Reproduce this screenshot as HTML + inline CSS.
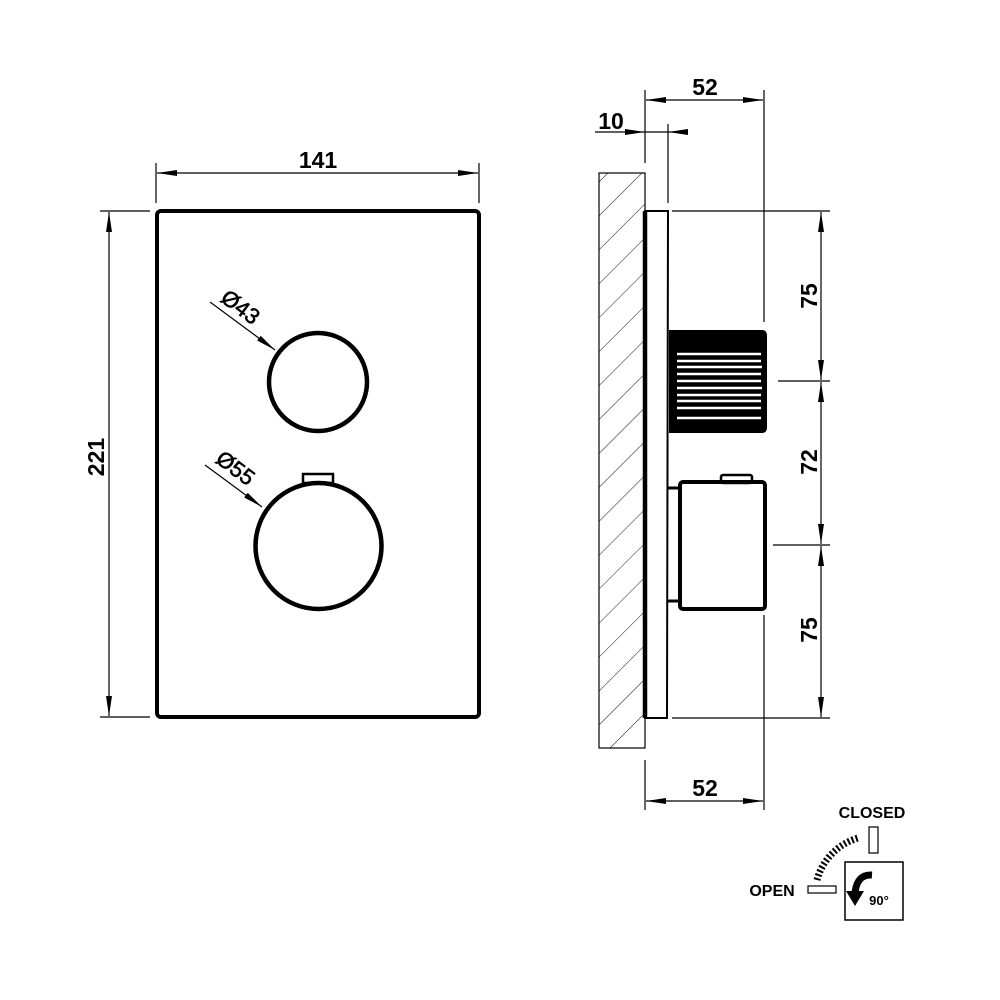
<!DOCTYPE html>
<html><head><style>html,body{margin:0;padding:0;background:#fff}svg{display:block}</style></head><body>
<svg width="1000" height="1000" viewBox="0 0 1000 1000" xmlns="http://www.w3.org/2000/svg" font-family="Liberation Sans, sans-serif" font-weight="bold">
<defs>
<marker id="a" markerWidth="20" markerHeight="8" refX="20" refY="4" orient="auto" markerUnits="userSpaceOnUse"><path d="M0,1 L20,4 L0,7 z" fill="#000"/></marker>
<marker id="s" markerWidth="20" markerHeight="8" refX="0" refY="4" orient="auto" markerUnits="userSpaceOnUse"><path d="M20,1 L0,4 L20,7 z" fill="#000"/></marker>
<pattern id="h" patternUnits="userSpaceOnUse" width="24" height="24" patternTransform="rotate(45)"><line x1="0" y1="0" x2="0" y2="24" stroke="#000" stroke-width="0.9"/></pattern>
</defs>
<g stroke="#000" fill="none">
<rect x="157" y="211" width="322" height="506" rx="4" stroke-width="4"/>
<line x1="156" y1="163" x2="156" y2="203" stroke-width="1.2"/>
<line x1="479" y1="163" x2="479" y2="203" stroke-width="1.2"/>
<line x1="157" y1="173" x2="478" y2="173" stroke-width="1.2" marker-start="url(#s)" marker-end="url(#a)"/>
<line x1="100" y1="211" x2="150" y2="211" stroke-width="1.2"/>
<line x1="100" y1="717" x2="150" y2="717" stroke-width="1.2"/>
<line x1="109" y1="212" x2="109" y2="716" stroke-width="1.2" marker-start="url(#s)" marker-end="url(#a)"/>
<circle cx="318" cy="382" r="49" stroke-width="4.5"/>
<rect x="303" y="474" width="30" height="9" stroke-width="2.5"/>
<circle cx="318.5" cy="546" r="63" stroke-width="4.5"/>
<line x1="210" y1="302" x2="275" y2="350" stroke-width="1.2" marker-end="url(#a)"/>
<line x1="205" y1="465" x2="262" y2="507" stroke-width="1.2" marker-end="url(#a)"/>

<rect x="599" y="173" width="46" height="575" fill="url(#h)" stroke-width="1.2"/>
<path d="M645,211 L668,211 L667,718 L645,718 Z" stroke-width="2" fill="#fff"/>
<line x1="645" y1="211" x2="645" y2="718" stroke-width="4.5"/>
<path d="M669,330 L762,330 Q767,330 767,336 L767,427 Q767,433 762,433 L669,433 Z" fill="#000" stroke="none"/>
<g stroke="#fff" stroke-width="2.5">
<line x1="677" y1="354" x2="761" y2="354"/><line x1="677" y1="361" x2="761" y2="361"/><line x1="677" y1="367" x2="762" y2="367"/><line x1="677" y1="374" x2="761" y2="374"/><line x1="677" y1="381" x2="761" y2="381"/><line x1="677" y1="388" x2="762" y2="388"/><line x1="677" y1="395" x2="761" y2="395"/><line x1="677" y1="401" x2="761" y2="401"/><line x1="677" y1="408" x2="761" y2="408"/><line x1="677" y1="418" x2="761" y2="418"/>
</g>
<rect x="680" y="482" width="85" height="127" rx="3" stroke-width="4"/>
<rect x="721" y="475" width="31" height="8" rx="2" stroke-width="2.5"/>
<line x1="668" y1="488" x2="680" y2="488" stroke-width="3"/>
<line x1="668" y1="601" x2="680" y2="601" stroke-width="3"/>
<line x1="645" y1="90" x2="645" y2="163" stroke-width="1.2"/>
<line x1="764" y1="90" x2="764" y2="322" stroke-width="1.2"/>
<line x1="646" y1="100" x2="763" y2="100" stroke-width="1.2" marker-start="url(#s)" marker-end="url(#a)"/>
<line x1="668" y1="124" x2="668" y2="203" stroke-width="1.2"/>
<line x1="595" y1="132" x2="645" y2="132" stroke-width="1.2" marker-end="url(#a)"/>
<line x1="688" y1="132" x2="668" y2="132" stroke-width="1.2" marker-end="url(#a)"/>
<line x1="645" y1="132" x2="668" y2="132" stroke-width="1.2"/>
<line x1="672" y1="211" x2="830" y2="211" stroke-width="1.2"/>
<line x1="778" y1="381" x2="830" y2="381" stroke-width="1.2"/>
<line x1="773" y1="545" x2="830" y2="545" stroke-width="1.2"/>
<line x1="672" y1="718" x2="830" y2="718" stroke-width="1.2"/>
<line x1="821" y1="212" x2="821" y2="380" stroke-width="1.2" marker-start="url(#s)" marker-end="url(#a)"/>
<line x1="821" y1="382" x2="821" y2="544" stroke-width="1.2" marker-start="url(#s)" marker-end="url(#a)"/>
<line x1="821" y1="546" x2="821" y2="717" stroke-width="1.2" marker-start="url(#s)" marker-end="url(#a)"/>
<line x1="645" y1="760" x2="645" y2="810" stroke-width="1.2"/>
<line x1="764" y1="615" x2="764" y2="810" stroke-width="1.2"/>
<line x1="646" y1="801" x2="763" y2="801" stroke-width="1.2" marker-start="url(#s)" marker-end="url(#a)"/>
<rect x="845" y="862" width="58" height="58" stroke-width="1.5"/>
<rect x="869" y="827" width="9" height="26" stroke-width="1.2"/>
<rect x="808" y="886" width="28" height="7" stroke-width="1.2"/>
<path d="M817,880 A60,60 0 0 1 858,838" stroke-width="7" stroke-dasharray="2,2.2"/>
<path d="M872,875 Q857,874 855,893" stroke-width="7"/>
</g>
<path d="M846,891 L864,891 L855,906 Z" fill="#000"/>
<g fill="#000" font-size="23" text-anchor="middle">
<text x="318" y="168">141</text>
<text transform="translate(104,457) rotate(-90)">221</text>
<text transform="translate(236,313) rotate(37)" font-weight="normal" font-size="22" stroke="#000" stroke-width="0.6">Ø43</text>
<text transform="translate(231,474) rotate(37)" font-weight="normal" font-size="22" stroke="#000" stroke-width="0.6">Ø55</text>
<text x="705" y="95">52</text>
<text x="611" y="129">10</text>
<text x="705" y="796">52</text>
<text transform="translate(817,296) rotate(-90)">75</text>
<text transform="translate(817,462) rotate(-90)">72</text>
<text transform="translate(817,630) rotate(-90)">75</text>
<text x="872" y="818" font-size="16">CLOSED</text>
<text x="772" y="896" font-size="16">OPEN</text>
<text x="879" y="905" font-size="13">90°</text>
</g>
</svg>
</body></html>
